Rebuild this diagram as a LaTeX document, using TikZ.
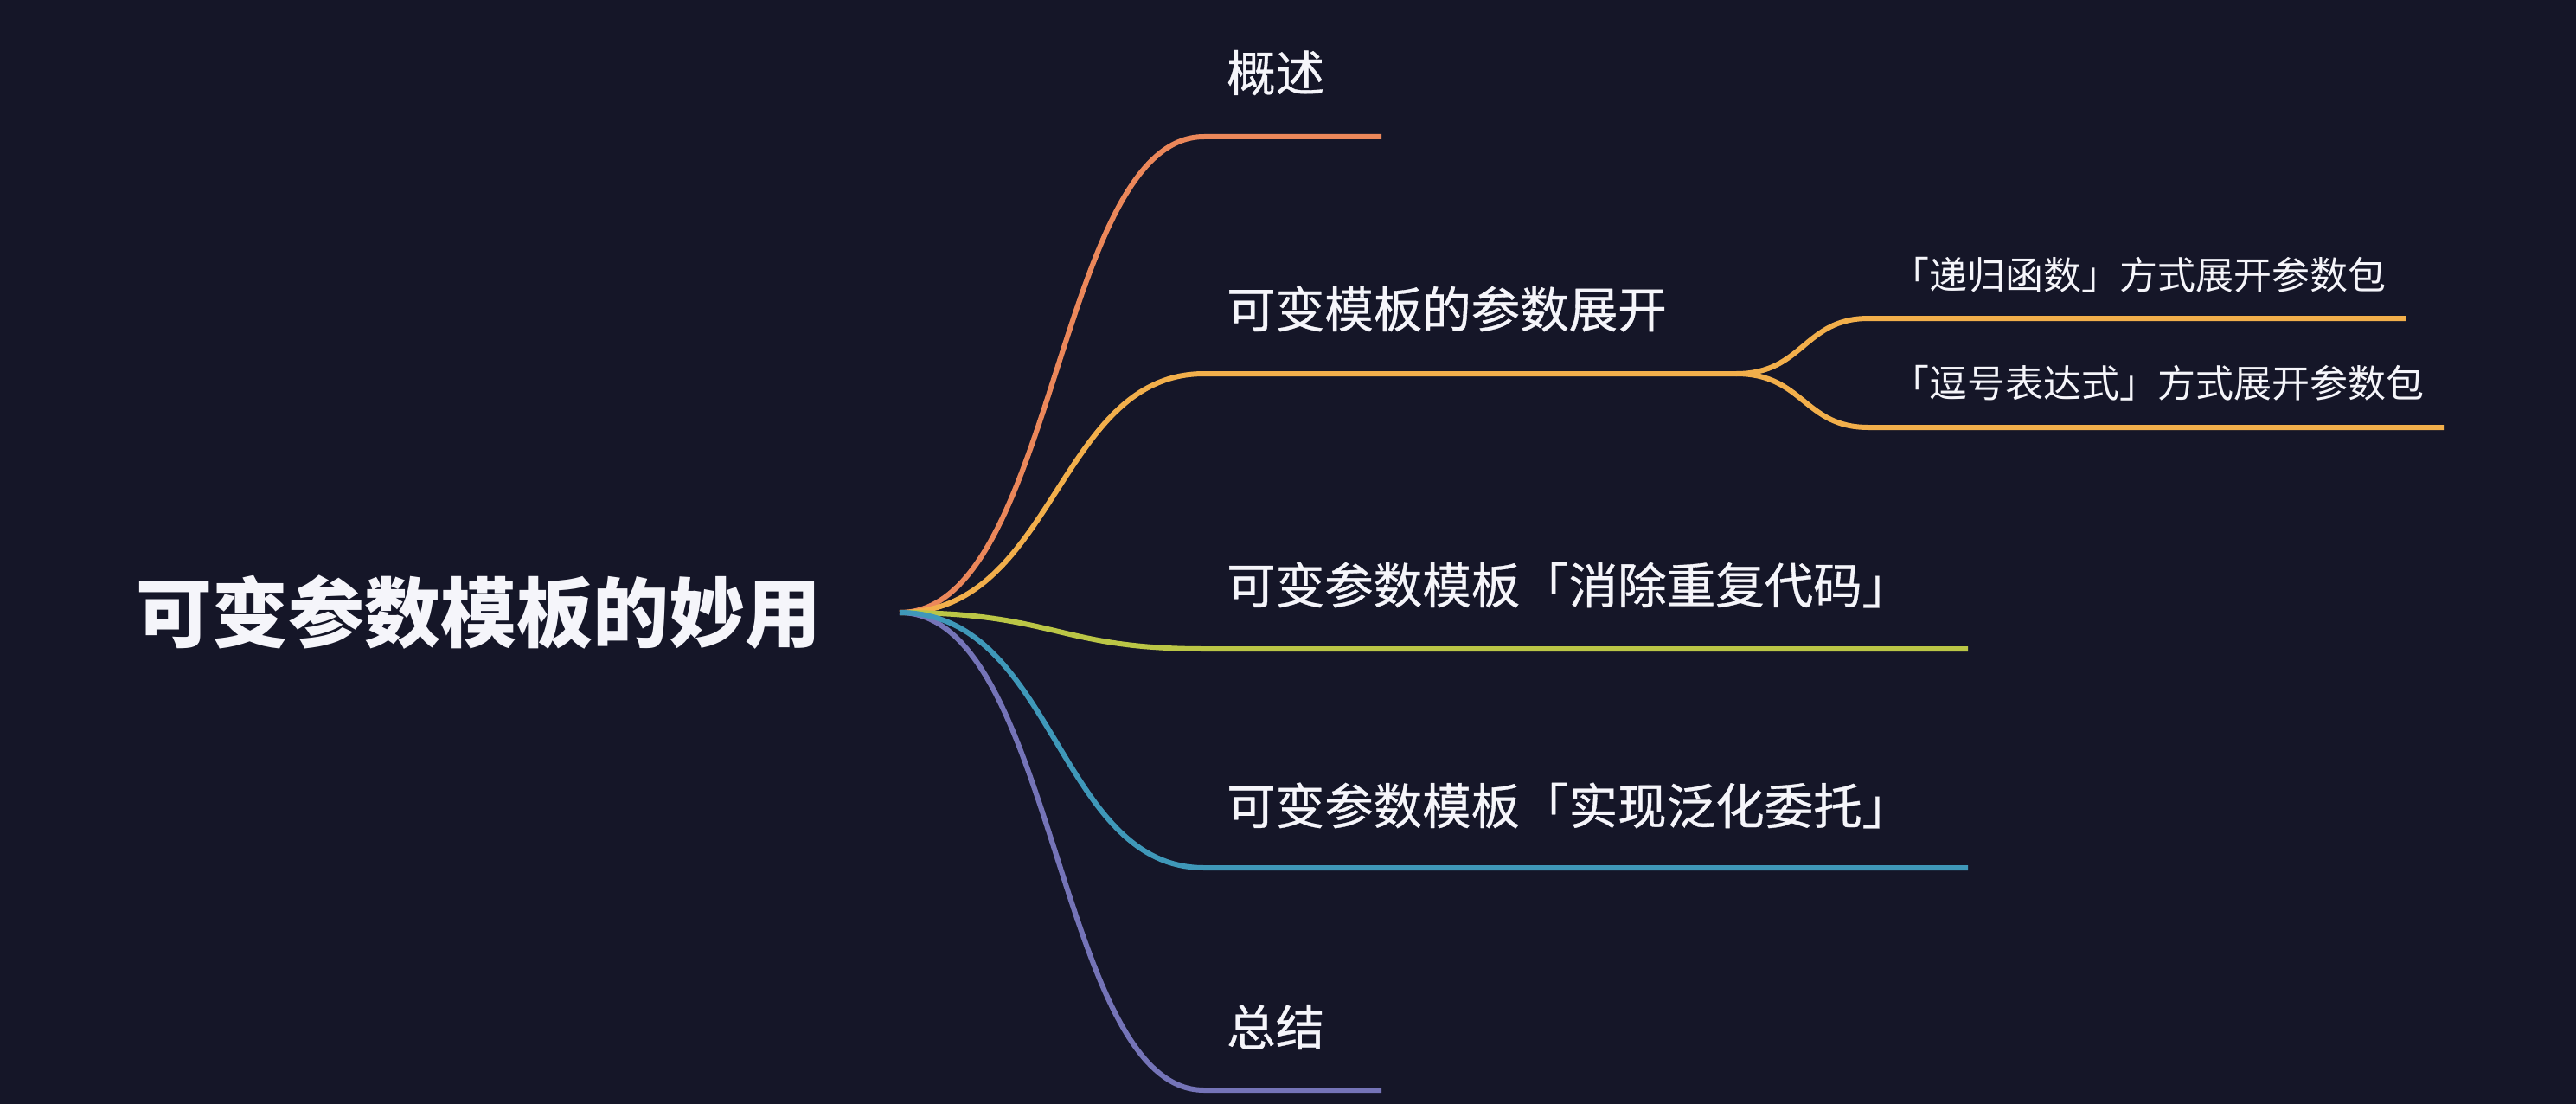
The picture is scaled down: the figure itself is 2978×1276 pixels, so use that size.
\documentclass[tikz,border=0pt]{standalone}
\usepackage{fontspec}
\setmainfont{Noto Sans CJK SC}
\newfontfamily\cjkmid{Noto Sans CJK SC}[FakeBold=0.6]
\usetikzlibrary{positioning}
\definecolor{mbg}{HTML}{151628}
\definecolor{morange}{HTML}{EB875A}
\definecolor{myellow}{HTML}{F2AF4B}
\definecolor{mlime}{HTML}{BBC646}
\definecolor{mteal}{HTML}{3F98B9}
\definecolor{mviolet}{HTML}{7574B8}
\definecolor{mtext}{HTML}{F5F5FA}
\tikzset{
  rootlbl/.style={text=mtext, inner sep=0pt, anchor=west,
                  font=\fontsize{88}{88}\selectfont\bfseries},
  toplbl/.style={text=mtext, inner sep=0pt, anchor=west,
                 font=\cjkmid\fontsize{56.5}{56.5}\selectfont},
  sublbl/.style={text=mtext, inner sep=0pt, anchor=west,
                 font=\fontsize{44}{44}\selectfont},
  link/.style={line width=6pt, line cap=butt},
}

\begin{document}
\begin{tikzpicture}[x=1pt, y=-1pt,
    fork/.style={link, draw=#1}]
  \fill[mbg] (0,0) rectangle (2978,1276);
  \useasboundingbox (0,0) rectangle (2978,1276);

  \node[rootlbl] (root) at (157,708) {可变参数模板的妙用};
  \coordinate (hub) at (1040,708);

  \node[toplbl] (a) at (1418,84) {概述};
  \node[toplbl] (b) at (1418,357) {可变模板的参数展开};
  \node[toplbl] (c) at (1418,676) {可变参数模板「消除重复代码」};
  \node[toplbl] (d) at (1418,931) {可变参数模板「实现泛化委托」};
  \node[toplbl] (e) at (1418,1187) {总结};
  \node[sublbl] (b1) at (2186,318) {「递归函数」方式展开参数包};
  \node[sublbl] (b2) at (2186,443) {「逗号表达式」方式展开参数包};

  \coordinate (a0) at (1392,158);  \coordinate (a1) at (1597,158);
  \coordinate (b0) at (1392,432);  \coordinate (b1) at (2007,432);
  \coordinate (c0) at (1392,750);  \coordinate (c1) at (2275,750);
  \coordinate (d0) at (1392,1003); \coordinate (d1) at (2275,1003);
  \coordinate (e0) at (1392,1260); \coordinate (e1) at (1597,1260);
  \coordinate (f0) at (2160,368);  \coordinate (f1) at (2781,368);
  \coordinate (g0) at (2160,494);  \coordinate (g1) at (2825,494);

  \draw[fork=morange] (hub) .. controls +(180,0) and +(-170,0) .. (a0) -- (a1);
  \draw[fork=myellow] (hub) .. controls +(180,0) and +(-170,0) .. (b0) -- (b1);
  \draw[fork=myellow] (b1) .. controls +(78,0) and +(-75,0) .. (f0) -- (f1);
  \draw[fork=myellow] (b1) .. controls +(78,0) and +(-75,0) .. (g0) -- (g1);
  \draw[fork=mlime] (hub) .. controls +(180,0) and +(-170,0) .. (c0) -- (c1);
  \draw[fork=mviolet] (hub) .. controls +(180,0) and +(-170,0) .. (e0) -- (e1);
  \draw[fork=mteal] (hub) .. controls +(180,0) and +(-170,0) .. (d0) -- (d1);
\end{tikzpicture}
\end{document}
